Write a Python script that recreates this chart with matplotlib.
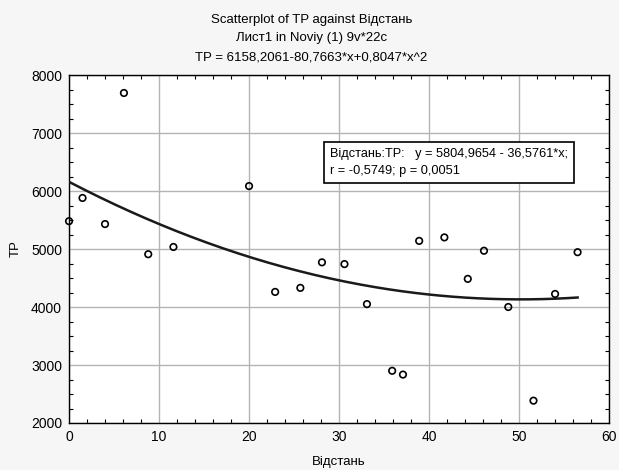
import numpy as np
import matplotlib
matplotlib.use("Agg")
import matplotlib.pyplot as plt
from matplotlib.ticker import MultipleLocator

plt.rcParams['font.family'] = ['Liberation Sans', 'DejaVu Sans']

# values
distance = [0.0, 1.5, 4.0, 6.1, 8.8, 11.6, 20.0, 22.9, 25.7, 28.1, 30.6,
            33.1, 35.9, 37.1, 38.9, 41.7, 44.3, 46.1, 48.8, 51.6, 54.0, 56.5]
tp = [5480, 5880, 5430, 7690, 4910, 5035, 6085, 4260, 4330, 4770, 4740,
      4050, 2900, 2835, 5140, 5200, 4485, 4970, 4000, 2385, 4225, 4945]

# quadratic fit from the title
fit_coef = [6158.2061, -80.7663, 0.8047]

title_lines = ["Scatterplot of TP against Відстань",
               "Лист1 in Noviy (1) 9v*22c",
               "TP = 6158,2061-80,7663*x+0,8047*x^2"]
legend_lines = ["Відстань:TP:   y = 5804,9654 - 36,5761*x;",
                "r = -0,5749; p = 0,0051"]

fig = plt.figure(figsize=(6.19, 4.70), dpi=100, facecolor='#f6f6f6')
ax = fig.add_axes([0.1115, 0.1, 0.8725, 0.7404])
ax.set_facecolor('white')

xs = np.linspace(min(distance), max(distance), 200)
ys = fit_coef[0] + fit_coef[1] * xs + fit_coef[2] * xs ** 2
ax.plot(xs, ys, color='#1a1a1a', lw=1.8, zorder=3)
ax.scatter(distance, tp, s=22, facecolors='none', edgecolors='black',
           linewidths=1.2, zorder=4, clip_on=False)

ax.set_xlim(0, 60)
ax.set_ylim(2000, 8000)
ax.xaxis.set_major_locator(MultipleLocator(10))
ax.xaxis.set_minor_locator(MultipleLocator(2))
ax.yaxis.set_major_locator(MultipleLocator(1000))
ax.yaxis.set_minor_locator(MultipleLocator(250))
ax.grid(True, which='major', color='#b4b4b4', lw=1.0)
ax.set_axisbelow(True)
ax.tick_params(which='both', direction='in', top=True, right=True,
               labelsize=10, pad=5)
ax.tick_params(which='major', length=0)
ax.tick_params(which='minor', length=3, width=0.8)
for sp in ax.spines.values():
    sp.set_linewidth(1.0)

ax.set_xlabel("Відстань", fontsize=9.5)
ax.set_ylabel("TP", fontsize=9.5)
ax.xaxis.set_label_coords(0.5, -0.095)
ax.yaxis.set_label_coords(-0.088, 0.5)

for i, line in enumerate(title_lines):
    fig.text(0.503, 1 - (20 + 18.5 * i) / 470, line, ha='center', va='center',
             fontsize=9.5)

ax.text(0.483, 0.79, legend_lines[0] + "\n" + legend_lines[1],
        transform=ax.transAxes, ha='left', va='top', fontsize=9.2,
        linespacing=1.55, zorder=6,
        bbox=dict(boxstyle='square,pad=0.45', facecolor='white',
                  edgecolor='black', lw=1.2))

fig.savefig("out.png", dpi=100, facecolor=fig.get_facecolor())
